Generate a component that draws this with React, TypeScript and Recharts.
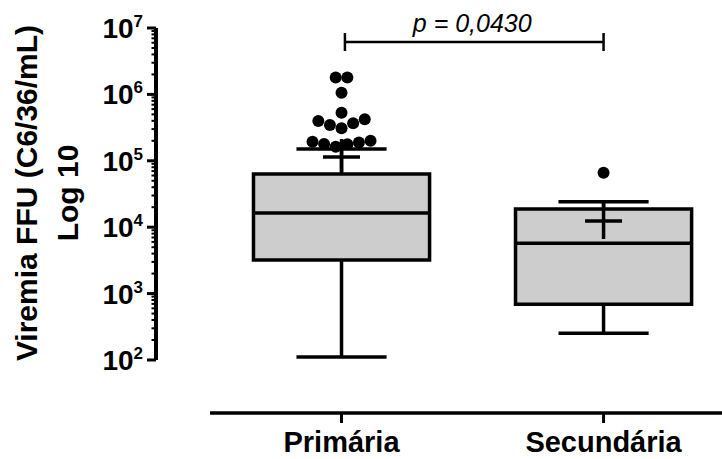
import React from "react";
import {
  ComposedChart,
  XAxis,
  YAxis,
  Scatter,
  ReferenceArea,
  ReferenceLine,
} from "recharts";

// ---------- data ----------
const categories = ["Primária", "Secundária"];
const categoryPositions = [1, 2];
const whiskerLow = [111, 252];
const q1 = [3200, 690];
const median = [16400, 5720];
const q3 = [63000, 18800];
const whiskerHigh = [150000, 24200];
const means = [114000, 12400];
const outliersPrimaria = [
  194000, 179000, 163000, 177000, 188000, 201000, 398000, 346000, 309000,
  367000, 422000, 530000, 1060000, 1790000, 1790000,
];
const outliersSecundaria = [66200];
const outlierGroups = [outliersPrimaria, outliersSecundaria];
const yMajorTicks = [1e2, 1e3, 1e4, 1e5, 1e6, 1e7];
const pValueLabel = "p = 0,0430";
const yTitleLines = ["Viremia FFU (C6/36/mL)", "Log 10"];

// ---------- layout (not data) ----------
const FONT = "'Liberation Sans', Arial, Helvetica, sans-serif";
const X_DOMAIN: [number, number] = [0.292, 2.452];
const Y_DOMAIN: [number, number] = [15.9, 1e7];
const X_AXIS_START = 0.498;
const BOX_HALF = 0.336;
const CAP_HALF = 0.172;
const DOT_STEP = 0.0443;
const ROW_TOL = 0.15;
const BRACKET_Y = 6.15e6;
const BRACKET_TICK: [number, number] = [8.4e6, 4.5e6];
const BRACKET_X: [number, number] = [1.013, 2.0];
const STROKE = 3.5;

const minorTicks: number[] = [];
for (let k = 2; k < 7; k++) {
  for (let m = 2; m <= 9; m++) minorTicks.push(m * Math.pow(10, k));
}
const allYTicks = [...yMajorTicks, ...minorTicks].sort((a, b) => a - b);

function swarm(values: number[], center: number) {
  const idx = values.map((_, i) => i).sort((a, b) => values[a] - values[b]);
  const rows: number[][] = [];
  let start = -Infinity;
  for (const i of idx) {
    const lv = Math.log10(values[i]);
    if (lv - start > ROW_TOL) {
      rows.push([]);
      start = lv;
    }
    rows[rows.length - 1].push(i);
  }
  const pts: { x: number; y: number }[] = [];
  rows.forEach((row) => {
    row.sort((a, b) => a - b);
    row.forEach((i, k) =>
      pts.push({ x: center + (k - (row.length - 1) / 2) * DOT_STEP, y: values[i] })
    );
  });
  return pts;
}

const outlierPoints = outlierGroups.flatMap((g, i) => swarm(g, categoryPositions[i]));
const meanPoints = means.map((m, i) => ({ x: categoryPositions[i], y: m }));

const YTick = (props: any) => {
  const { x, y, payload } = props;
  const v = payload.value;
  const exp = Math.round(Math.log10(v));
  const isMajor = Math.abs(v - Math.pow(10, exp)) < 1e-6 * v;
  return (
    <g>
      <line
        x1={x - (isMajor ? 9 : 4.5)}
        x2={x}
        y1={y}
        y2={y}
        stroke="#000"
        strokeWidth={isMajor ? 3 : 2}
      />
      {isMajor && (
        <text
          x={x - 13}
          y={y + 10}
          textAnchor="end"
          fontSize={28}
          fontWeight="bold"
          fill="#000"
          fontFamily={FONT}
        >
          10
          <tspan dy={-11} fontSize={17}>
            {exp}
          </tspan>
        </text>
      )}
    </g>
  );
};

const XTick = (props: any) => {
  const { x, y, payload } = props;
  const i = categoryPositions.indexOf(payload.value);
  return (
    <text
      x={x}
      y={y + 29}
      textAnchor="middle"
      fontSize={29}
      fontWeight="bold"
      fill="#000"
      fontFamily={FONT}
    >
      {categories[i]}
    </text>
  );
};

const YTitle = (props: any) => {
  const vb = props.viewBox || { x: 0, y: 28 };
  const cy = vb.y + 165;
  const xs = [vb.x + 36.5, vb.x + 78];
  return (
    <g>
      {yTitleLines.map((t, i) => (
        <text
          key={i}
          x={xs[i]}
          y={cy}
          transform={`rotate(-90, ${xs[i]}, ${cy})`}
          textAnchor="middle"
          fontSize={30}
          fontWeight="bold"
          fill="#000"
          fontFamily={FONT}
        >
          {t}
        </text>
      ))}
    </g>
  );
};

const PLabel = (props: any) => {
  const vb = props.viewBox || { x: 0, y: 0, width: 0 };
  return (
    <text
      x={vb.x + (vb.width || 0) / 2 - 2}
      y={vb.y - 10}
      textAnchor="middle"
      fontSize={25}
      fontStyle="italic"
      fill="#000"
      fontFamily={FONT}
    >
      {pValueLabel}
    </text>
  );
};

const Dot = (props: any) => {
  const { cx, cy } = props;
  return <circle cx={cx} cy={cy} r={6} fill="#000" />;
};

const MeanCross = (props: any) => {
  const { cx, cy } = props;
  return (
    <g>
      <line x1={cx - 18.5} x2={cx + 18.5} y1={cy} y2={cy} stroke="#000" strokeWidth={STROKE} />
      <line x1={cx} x2={cx} y1={cy - 18} y2={cy + 18} stroke="#000" strokeWidth={STROKE} />
    </g>
  );
};

export default function App() {
  return (
    <div style={{ position: "absolute", left: 0, top: 0, background: "#fff" }}>
      <ComposedChart
        width={722}
        height={459}
        margin={{ top: 28, right: 0, bottom: 0, left: 0 }}
        style={{ fontFamily: FONT }}
      >
        <XAxis
          type="number"
          dataKey="x"
          domain={X_DOMAIN}
          allowDataOverflow
          ticks={categoryPositions}
          interval={0}
          axisLine={false}
          tickLine={{ stroke: "#000", strokeWidth: 3 }}
          tickSize={10}
          tickMargin={0}
          height={46}
          tick={<XTick />}
        />
        <YAxis
          type="number"
          dataKey="y"
          scale="log"
          domain={Y_DOMAIN}
          allowDataOverflow
          ticks={allYTicks}
          interval={0}
          axisLine={false}
          tickLine={false}
          tickSize={0}
          tickMargin={0}
          width={156}
          tick={<YTick />}
          label={<YTitle />}
        />

        {/* axis lines */}
        <ReferenceLine
          segment={[
            { x: X_DOMAIN[0], y: yMajorTicks[0] },
            { x: X_DOMAIN[0], y: yMajorTicks[yMajorTicks.length - 1] },
          ]}
          stroke="#000"
          strokeWidth={4}
        />
        <ReferenceLine
          segment={[
            { x: X_AXIS_START, y: Y_DOMAIN[0] },
            { x: X_DOMAIN[1], y: Y_DOMAIN[0] },
          ]}
          stroke="#000"
          strokeWidth={3.5}
        />

        {/* whiskers */}
        {categoryPositions.map((c, i) => (
          <ReferenceLine
            key={`wl${i}`}
            segment={[{ x: c, y: whiskerLow[i] }, { x: c, y: q1[i] }]}
            stroke="#000"
            strokeWidth={STROKE}
          />
        ))}
        {categoryPositions.map((c, i) => (
          <ReferenceLine
            key={`wh${i}`}
            segment={[{ x: c, y: q3[i] }, { x: c, y: whiskerHigh[i] }]}
            stroke="#000"
            strokeWidth={STROKE}
          />
        ))}
        {categoryPositions.map((c, i) => (
          <ReferenceLine
            key={`cl${i}`}
            segment={[
              { x: c - CAP_HALF, y: whiskerLow[i] },
              { x: c + CAP_HALF, y: whiskerLow[i] },
            ]}
            stroke="#000"
            strokeWidth={STROKE}
          />
        ))}
        {categoryPositions.map((c, i) => (
          <ReferenceLine
            key={`ch${i}`}
            segment={[
              { x: c - CAP_HALF, y: whiskerHigh[i] },
              { x: c + CAP_HALF, y: whiskerHigh[i] },
            ]}
            stroke="#000"
            strokeWidth={STROKE}
          />
        ))}

        {/* boxes */}
        {categoryPositions.map((c, i) => (
          <ReferenceArea
            key={`box${i}`}
            x1={c - BOX_HALF}
            x2={c + BOX_HALF}
            y1={q1[i]}
            y2={q3[i]}
            fill="#cdcdcd"
            fillOpacity={1}
            stroke="#000"
            strokeWidth={STROKE}
          />
        ))}
        {categoryPositions.map((c, i) => (
          <ReferenceLine
            key={`med${i}`}
            segment={[
              { x: c - BOX_HALF, y: median[i] },
              { x: c + BOX_HALF, y: median[i] },
            ]}
            stroke="#000"
            strokeWidth={STROKE}
          />
        ))}

        {/* significance bracket */}
        <ReferenceLine
          segment={[
            { x: BRACKET_X[0], y: BRACKET_Y },
            { x: BRACKET_X[1], y: BRACKET_Y },
          ]}
          stroke="#000"
          strokeWidth={2.5}
          label={<PLabel />}
        />
        {BRACKET_X.map((bx, i) => (
          <ReferenceLine
            key={`bt${i}`}
            segment={[
              { x: bx, y: BRACKET_TICK[0] },
              { x: bx, y: BRACKET_TICK[1] },
            ]}
            stroke="#000"
            strokeWidth={2.5}
          />
        ))}

        <Scatter
          data={meanPoints}
          dataKey="y"
          shape={<MeanCross />}
          isAnimationActive={false}
        />
        <Scatter
          data={outlierPoints}
          dataKey="y"
          shape={<Dot />}
          isAnimationActive={false}
        />
      </ComposedChart>
    </div>
  );
}
